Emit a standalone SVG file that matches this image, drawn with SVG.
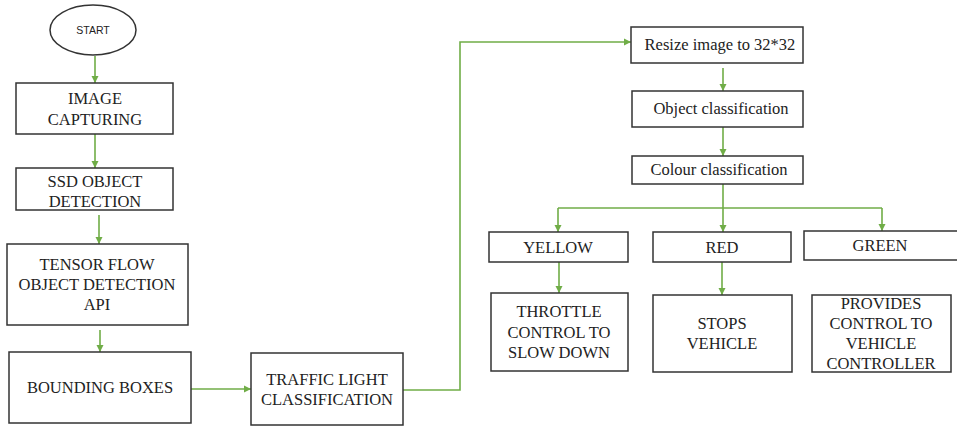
<svg xmlns="http://www.w3.org/2000/svg" width="957" height="426" viewBox="0 0 957 426">
<defs>
<style>
.box{fill:#fff;stroke:#333;stroke-width:1.5}
.t{font-family:"Liberation Serif","Times New Roman",serif;font-size:16.5px;fill:#222;text-anchor:middle}
.s{font-family:"Liberation Sans",Arial,sans-serif;font-size:10.5px;fill:#222;text-anchor:middle}
.c{fill:none;stroke:#70AD47;stroke-width:1.6}
</style>
<marker id="ah" markerWidth="8" markerHeight="8" refX="7" refY="4" orient="auto" markerUnits="userSpaceOnUse">
<path d="M0,0.5 L7,4 L0,7.5 Z" fill="#70AD47"/>
</marker>
</defs>
<rect width="957" height="426" fill="#fff"/>
<g id="connectors">
<path class="c" d="M95,56 V83" marker-end="url(#ah)"/>
<path class="c" d="M95,134 V168" marker-end="url(#ah)"/>
<path class="c" d="M99,215 V244" marker-end="url(#ah)"/>
<path class="c" d="M100,330 V352" marker-end="url(#ah)"/>
<path class="c" d="M191,389 H251" marker-end="url(#ah)"/>
<path class="c" d="M403,390 H460 V42 H631" marker-end="url(#ah)"/>
<path class="c" d="M723,68 V91" marker-end="url(#ah)"/>
<path class="c" d="M723,127 V156" marker-end="url(#ah)"/>
<path class="c" d="M723,184 V208"/>
<path class="c" d="M558,208 H882"/>
<path class="c" d="M558,208 V232" marker-end="url(#ah)"/>
<path class="c" d="M723,208 V232" marker-end="url(#ah)"/>
<path class="c" d="M882,208 V231" marker-end="url(#ah)"/>
<path class="c" d="M559,262 V293" marker-end="url(#ah)"/>
<path class="c" d="M722,262 V295" marker-end="url(#ah)"/>
</g>
<g id="start">
<ellipse cx="93" cy="30" rx="43" ry="25" fill="#fff" stroke="#333" stroke-width="1.5"/>
<text class="s" x="93" y="34">START</text>
</g>
<g id="image-capturing">
<rect class="box" x="16" y="83" width="157" height="51"/>
<text class="t" x="95" y="104">IMAGE</text>
<text class="t" x="95" y="125">CAPTURING</text>
</g>
<g id="ssd">
<rect class="box" x="16" y="168" width="157" height="42"/>
<text class="t" x="95" y="187">SSD OBJECT</text>
<text class="t" x="95" y="207">DETECTION</text>
</g>
<g id="tensorflow">
<rect class="box" x="7" y="244" width="181" height="81"/>
<text class="t" x="97" y="270">TENSOR FLOW</text>
<text class="t" x="97" y="290">OBJECT DETECTION</text>
<text class="t" x="97" y="310">API</text>
</g>
<g id="bounding">
<rect class="box" x="9" y="352" width="182" height="71"/>
<text class="t" x="100" y="393">BOUNDING BOXES</text>
</g>
<g id="traffic">
<rect class="box" x="251" y="353" width="152" height="72"/>
<text class="t" x="327" y="385">TRAFFIC LIGHT</text>
<text class="t" x="327" y="405">CLASSIFICATION</text>
</g>
<g id="resize">
<rect class="box" x="631" y="27" width="172" height="36"/>
<text class="t" x="720" y="50">Resize image to 32*32</text>
</g>
<g id="object-class">
<rect class="box" x="632" y="91" width="171" height="36"/>
<text class="t" x="721" y="114">Object classification</text>
</g>
<g id="colour-class">
<rect class="box" x="632" y="156" width="171" height="28"/>
<text class="t" x="719" y="175">Colour classification</text>
</g>
<g id="yellow">
<rect class="box" x="489" y="232" width="139" height="30"/>
<text class="t" x="558" y="253">YELLOW</text>
</g>
<g id="red">
<rect class="box" x="653" y="232" width="138" height="30"/>
<text class="t" x="722" y="253">RED</text>
</g>
<g id="green">
<rect class="box" x="804" y="231" width="160" height="29"/>
<text class="t" x="880" y="251">GREEN</text>
</g>
<g id="throttle">
<rect class="box" x="491" y="293" width="137" height="78"/>
<text class="t" x="559" y="317">THROTTLE</text>
<text class="t" x="559" y="338">CONTROL TO</text>
<text class="t" x="559" y="358">SLOW DOWN</text>
</g>
<g id="stops">
<rect class="box" x="653" y="295" width="139" height="77"/>
<text class="t" x="722" y="329">STOPS</text>
<text class="t" x="722" y="349">VEHICLE</text>
</g>
<g id="provides">
<rect class="box" x="812" y="295" width="139" height="77"/>
<text class="t" x="881" y="309">PROVIDES</text>
<text class="t" x="881" y="329">CONTROL TO</text>
<text class="t" x="881" y="349">VEHICLE</text>
<text class="t" x="881" y="369">CONTROLLER</text>
</g>
</svg>
